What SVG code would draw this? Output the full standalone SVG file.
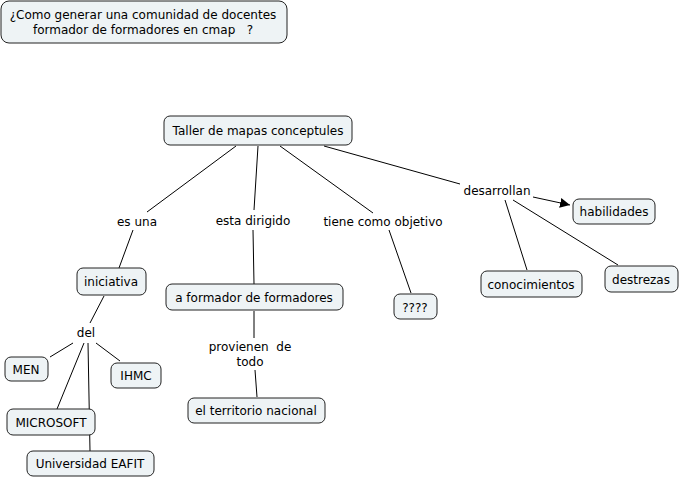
<svg xmlns="http://www.w3.org/2000/svg" width="681" height="479" viewBox="0 0 681 479">
<style>
.n rect{fill:#eef3f5;stroke:#222;stroke-width:1}
text{font-family:"DejaVu Sans",Verdana,sans-serif;font-size:12px;fill:#000;text-anchor:middle;white-space:pre}
.c line{stroke:#000;stroke-width:1}
</style>
<defs>
<marker id="ah" viewBox="0 0 10 10" refX="10" refY="5" markerWidth="10" markerHeight="10" markerUnits="userSpaceOnUse" orient="auto"><path d="M0,0L10,5L0,10z" fill="#000"/></marker>
</defs>
<rect width="681" height="479" fill="#fff"/>
<g class="c">
<line x1="236" y1="146" x2="147" y2="212"/>
<line x1="133" y1="230" x2="119" y2="268"/>
<line x1="258" y1="146" x2="254" y2="210"/>
<line x1="253" y1="230" x2="254" y2="284"/>
<line x1="280" y1="146" x2="373" y2="213"/>
<line x1="389" y1="230" x2="411" y2="293"/>
<line x1="324" y1="146" x2="460" y2="184"/>
<line x1="533" y1="197" x2="570" y2="205" marker-end="url(#ah)"/>
<line x1="505" y1="200" x2="527" y2="270"/>
<line x1="513" y1="200" x2="618" y2="265"/>
<line x1="104" y1="296" x2="90" y2="323"/>
<line x1="73" y1="343" x2="50" y2="357"/>
<line x1="96" y1="343" x2="120" y2="361"/>
<line x1="84" y1="343" x2="57" y2="409"/>
<line x1="88" y1="343" x2="90" y2="451"/>
<line x1="254" y1="311" x2="254" y2="338"/>
<line x1="255" y1="370" x2="257" y2="397"/>
</g>
<g id="title" class="n"><rect x="1" y="1" width="286" height="42" rx="8"/><text x="143" y="19">¿Como generar una comunidad de docentes</text><text x="143" y="34" xml:space="preserve">formador de formadores en cmap   ?</text></g>
<g id="taller" class="n"><rect x="164" y="116" width="188" height="29" rx="6"/><text x="258" y="135">Taller de mapas conceptules</text></g>
<g id="esuna"><text x="137" y="226">es una</text></g>
<g id="dirigido"><text x="253" y="225">esta dirigido</text></g>
<g id="objetivo"><text x="383" y="226">tiene como objetivo</text></g>
<g id="desarrollan"><text x="497" y="195">desarrollan</text></g>
<g id="habilidades" class="n"><rect x="573" y="199" width="82" height="25" rx="6"/><text x="614" y="216">habilidades</text></g>
<g id="conocimientos" class="n"><rect x="481" y="271" width="101" height="26" rx="6"/><text x="531" y="289">conocimientos</text></g>
<g id="destrezas" class="n"><rect x="605" y="266" width="73" height="26" rx="6"/><text x="641" y="284">destrezas</text></g>
<g id="iniciativa" class="n"><rect x="77" y="268" width="69" height="27" rx="6"/><text x="111" y="286">iniciativa</text></g>
<g id="aformador" class="n"><rect x="166" y="284" width="177" height="26" rx="6"/><text x="254" y="302">a formador de formadores</text></g>
<g id="qqqq" class="n"><rect x="394" y="294" width="43" height="25" rx="6"/><text x="415" y="312">????</text></g>
<g id="provienen"><text x="250" y="351" xml:space="preserve">provienen  de</text><text x="250" y="366">todo</text></g>
<g id="territorio" class="n"><rect x="188" y="398" width="137" height="25" rx="6"/><text x="256" y="415">el territorio nacional</text></g>
<g id="del"><text x="86" y="337">del</text></g>
<g id="men" class="n"><rect x="5" y="357" width="43" height="24" rx="6"/><text x="26" y="374">MEN</text></g>
<g id="ihmc" class="n"><rect x="111" y="363" width="50" height="25" rx="6"/><text x="136" y="380">IHMC</text></g>
<g id="microsoft" class="n"><rect x="7" y="409" width="88" height="26" rx="6"/><text x="51" y="427">MICROSOFT</text></g>
<g id="eafit" class="n"><rect x="27" y="451" width="127" height="25" rx="6"/><text x="90" y="468">Universidad EAFIT</text></g>
</svg>
